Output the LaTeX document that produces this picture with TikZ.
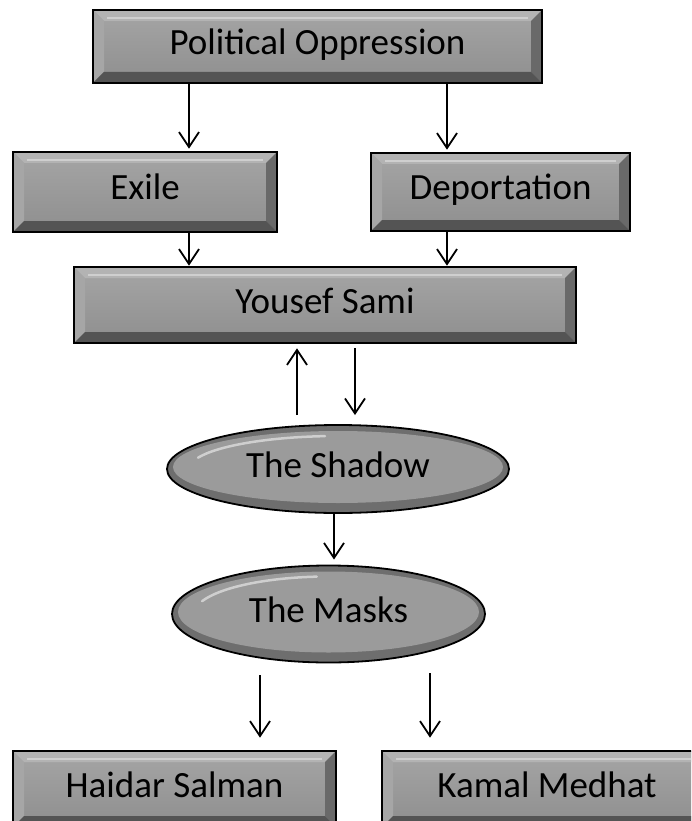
\documentclass[tikz,border=0pt]{standalone}
\usepackage{fontspec}
\setmainfont{Carlito}
\usetikzlibrary{arrows.meta,shapes.geometric,calc}

\definecolor{bevmid}{HTML}{9B9B9B}
\definecolor{bevtop}{HTML}{B3B3B3}
\definecolor{bevleft}{HTML}{A6A6A6}
\definecolor{bevright}{HTML}{696969}
\definecolor{bevbot}{HTML}{545454}
\definecolor{bevhigh}{HTML}{CFCFCF}

\begin{document}
\begin{tikzpicture}[
                x=1pt, y=-1pt,
                every node/.style={font=\fontsize{37}{40}\selectfont, text height=25pt, text depth=9pt, inner sep=0pt},
                bevelbox/.style={rectangle, draw=black, line width=2.6pt, top color=bevmid!90!white, bottom color=bevmid!92!black,
                    path picture={
                        \fill[bevtop] (path picture bounding box.north west) -- (path picture bounding box.north east)
                            -- ([xshift=-11pt,yshift=-11pt]path picture bounding box.north east)
                            -- ([xshift=11pt,yshift=-11pt]path picture bounding box.north west) -- cycle;
                        \fill[bevleft] (path picture bounding box.north west) -- ([xshift=11pt,yshift=-11pt]path picture bounding box.north west)
                            -- ([xshift=11pt,yshift=11pt]path picture bounding box.south west) -- (path picture bounding box.south west) -- cycle;
                        \fill[bevright] (path picture bounding box.north east) -- ([xshift=-11pt,yshift=-11pt]path picture bounding box.north east)
                            -- ([xshift=-11pt,yshift=11pt]path picture bounding box.south east) -- (path picture bounding box.south east) -- cycle;
                        \fill[bevbot] (path picture bounding box.south west) -- ([xshift=11pt,yshift=11pt]path picture bounding box.south west)
                            -- ([xshift=-11pt,yshift=11pt]path picture bounding box.south east) -- (path picture bounding box.south east) -- cycle;
                        \draw[bevhigh, line width=2pt] ([xshift=14pt,yshift=-8pt]path picture bounding box.north west)
                            -- ([xshift=-14pt,yshift=-8pt]path picture bounding box.north east);
                    }},
                bevoval/.style={ellipse, draw=black, line width=1.8pt, fill=bevbot!85!white,
                    path picture={
                        \path (path picture bounding box.south west) coordinate (sw)
                              (path picture bounding box.north east) coordinate (ne);
                        \fill[bevmid] let \p1=(sw), \p2=(ne) in
                            ($(sw)!.5!(ne)+(0pt,2pt)$) ellipse [x radius={(\x2-\x1)/2-6pt}, y radius={(\y2-\y1)/2-8pt}];
                        \draw[bevhigh, line width=2.5pt, line cap=round] let \p1=(sw), \p2=(ne), \n1={(\x2-\x1)/2-22pt}, \n2={(\y2-\y1)/2-11pt} in
                            ($(sw)!.5!(ne)+(160:\n1 and \n2)$) arc [start angle=160, end angle=95, x radius=\n1, y radius=\n2];
                    }},
                arr/.style={-{Straight Barb[length=15pt,width=20pt]}, line width=1.8pt}
            ]

            \useasboundingbox (0,0) rectangle (691,821);
            \clip (0,0) rectangle (691,821);

            % Boxes
            \node[bevelbox, minimum width=449pt, minimum height=73pt] (pol) at (317.5,46.5) {Political Oppression};
            \node[bevelbox, minimum width=264pt, minimum height=80pt] (exile) at (145,192) {Exile};
            \node[bevelbox, minimum width=259pt, minimum height=78pt] (deport) at (500.5,192) {Deportation};
            \node[bevelbox, minimum width=502pt, minimum height=76pt] (yousef) at (325,305) {Yousef Sami};
            \node[bevoval, minimum width=342pt, minimum height=88pt] (shadow) at (338,469) {The Shadow};
            \node[bevoval, minimum width=313pt, minimum height=97pt] (masks) at (328.5,614) {The Masks};
            \node[bevelbox, minimum width=323pt, minimum height=76pt] (haidar) at (174.5,789) {Haidar Salman};
            \node[bevelbox, minimum width=330pt, minimum height=76pt] (kamal) at (547,789) {Kamal Medhat};

            % Arrows
            \draw[arr, shorten >=2pt] (189,0 |- pol.south) -- (189,0 |- exile.north);
            \draw[arr, shorten >=2pt] (447,0 |- pol.south) -- (447,0 |- deport.north);
            \draw[arr] (189,0 |- exile.south) -- (189,0 |- yousef.north);
            \draw[arr] (447,0 |- deport.south) -- (447,0 |- yousef.north);
            \draw[arr, shorten <=9pt, shorten >=4pt] (297,0 |- shadow.north) -- (297,0 |- yousef.south);
            \draw[arr, shorten <=4pt, shorten >=9pt] (355,0 |- yousef.south) -- (355,0 |- shadow.north);
            \draw[arr, shorten >=5pt] (334,0 |- shadow.south) -- (334,0 |- masks.north);
            \draw[arr, shorten <=12pt, shorten >=12pt] (260,0 |- masks.south) -- (260,0 |- haidar.north);
            \draw[arr, shorten <=10pt, shorten >=12pt] (430,0 |- masks.south) -- (430,0 |- kamal.north);

            \end{tikzpicture}
\end{document}
